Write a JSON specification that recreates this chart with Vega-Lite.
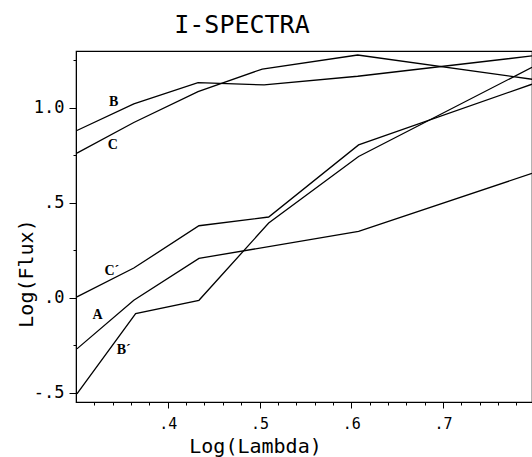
{
  "$schema": "https://vega.github.io/schema/vega-lite/v6.json",
  "width": 456,
  "height": 351,
  "autosize": {"type": "none"},
  "padding": {"left": 76, "top": 51, "right": 0, "bottom": 55},
  "background": "white",
  "config": {"view": {"stroke": "black", "strokeWidth": 1.2}, "font": "DejaVu Sans Mono"},
  "title": {"text": "I-SPECTRA", "font": "DejaVu Sans Mono", "fontSize": 25, "fontWeight": "normal", "anchor": "middle", "dx": -62, "dy": 26, "baseline": "alphabetic", "offset": 19, "color": "black"},
  "datasets": {
    "lines": [
      {"curve": "B", "logLambda": 0.301, "logFlux": 0.881},
      {"curve": "B", "logLambda": 0.363, "logFlux": 1.021},
      {"curve": "B", "logLambda": 0.433, "logFlux": 1.133},
      {"curve": "B", "logLambda": 0.505, "logFlux": 1.121},
      {"curve": "B", "logLambda": 0.607, "logFlux": 1.167},
      {"curve": "B", "logLambda": 0.797, "logFlux": 1.274},
      {"curve": "C", "logLambda": 0.301, "logFlux": 0.762},
      {"curve": "C", "logLambda": 0.363, "logFlux": 0.923},
      {"curve": "C", "logLambda": 0.433, "logFlux": 1.086},
      {"curve": "C", "logLambda": 0.503, "logFlux": 1.205},
      {"curve": "C", "logLambda": 0.607, "logFlux": 1.279},
      {"curve": "C", "logLambda": 0.797, "logFlux": 1.151},
      {"curve": "C´", "logLambda": 0.301, "logFlux": 0.004},
      {"curve": "C´", "logLambda": 0.363, "logFlux": 0.156},
      {"curve": "C´", "logLambda": 0.434, "logFlux": 0.379},
      {"curve": "C´", "logLambda": 0.51, "logFlux": 0.425},
      {"curve": "C´", "logLambda": 0.608, "logFlux": 0.805},
      {"curve": "C´", "logLambda": 0.797, "logFlux": 1.125},
      {"curve": "A", "logLambda": 0.301, "logFlux": -0.27},
      {"curve": "A", "logLambda": 0.363, "logFlux": -0.014},
      {"curve": "A", "logLambda": 0.434, "logFlux": 0.207},
      {"curve": "A", "logLambda": 0.608, "logFlux": 0.349},
      {"curve": "A", "logLambda": 0.797, "logFlux": 0.655},
      {"curve": "B´", "logLambda": 0.301, "logFlux": -0.507},
      {"curve": "B´", "logLambda": 0.365, "logFlux": -0.084},
      {"curve": "B´", "logLambda": 0.434, "logFlux": -0.014},
      {"curve": "B´", "logLambda": 0.51, "logFlux": 0.393},
      {"curve": "B´", "logLambda": 0.608, "logFlux": 0.744},
      {"curve": "B´", "logLambda": 0.797, "logFlux": 1.214}
    ],
    "labels": [
      {"label": "B", "logLambda": 0.341, "logFlux": 1.033},
      {"label": "C", "logLambda": 0.34, "logFlux": 0.805},
      {"label": "C´", "logLambda": 0.339, "logFlux": 0.138},
      {"label": "A", "logLambda": 0.3236, "logFlux": -0.093},
      {"label": "B´", "logLambda": 0.352, "logFlux": -0.277}
    ]
  },
  "resolve": {"axis": {"x": "independent", "y": "independent"}},
  "layer": [
    {
      "data": {"name": "lines"},
      "mark": {"type": "line", "color": "black", "strokeWidth": 1.3, "clip": true},
      "encoding": {
        "x": {
          "field": "logLambda", "type": "quantitative",
          "scale": {"domain": [0.3, 0.797], "nice": false, "zero": false},
          "axis": {
            "orient": "bottom",
            "title": "Log(Lambda)",
            "values": [0.4, 0.5, 0.6, 0.7],
            "labelExpr": "'.' + round(datum.value*10)",
            "tickSize": 6,
            "grid": false, "labelOverlap": false,
            "domainColor": "black", "tickColor": "black", "labelColor": "black", "titleColor": "black",
            "labelFont": "DejaVu Sans Mono", "labelFontSize": 15, "labelPadding": 8, "labelFlush": false,
            "titleFont": "DejaVu Sans Mono", "titleFontSize": 20, "titleFontWeight": "normal",
            "titleX": 179, "titleY": 50, "titleBaseline": "alphabetic", "titleAlign": "center"
          }
        },
        "y": {
          "field": "logFlux", "type": "quantitative",
          "scale": {"domain": [-0.55, 1.3], "nice": false, "zero": false},
          "axis": {
            "orient": "left",
            "title": "Log(Flux)",
            "values": [-0.5, 0, 0.5, 1],
            "labelExpr": "datum.value == 1 ? '1.0' : datum.value == 0.5 ? '.5' : datum.value == 0 ? '.0' : '-.5'",
            "tickSize": 7,
            "grid": false, "labelOverlap": false,
            "domainColor": "black", "tickColor": "black", "labelColor": "black", "titleColor": "black",
            "labelFont": "DejaVu Sans Mono", "labelFontSize": 17, "labelPadding": 5, "labelFlush": false,
            "titleFont": "DejaVu Sans Mono", "titleFontSize": 20, "titleFontWeight": "normal",
            "titleX": -44, "titleY": 222, "titleBaseline": "alphabetic", "titleAlign": "center"
          }
        },
        "detail": {"field": "curve", "type": "nominal"}
      }
    },
    {
      "data": {"name": "labels"},
      "mark": {"type": "text", "font": "Liberation Serif", "fontWeight": "bold", "fontSize": 14, "color": "black"},
      "encoding": {
        "x": {
          "field": "logLambda", "type": "quantitative",
          "axis": {
            "orient": "bottom", "title": null, "labels": false, "domain": false, "grid": false,
            "values": [0.32, 0.34, 0.36, 0.38, 0.42, 0.44, 0.46, 0.48, 0.52, 0.54, 0.56, 0.58, 0.62, 0.64, 0.66, 0.68, 0.72, 0.74, 0.76, 0.78],
            "tickSize": 3, "tickColor": "black"
          }
        },
        "y": {
          "field": "logFlux", "type": "quantitative",
          "axis": {
            "orient": "left", "title": null, "labels": false, "domain": false, "grid": false,
            "values": [-0.25, 0.25, 0.75, 1.25],
            "tickSize": 3, "tickColor": "black"
          }
        },
        "text": {"field": "label", "type": "nominal"}
      }
    }
  ]
}
